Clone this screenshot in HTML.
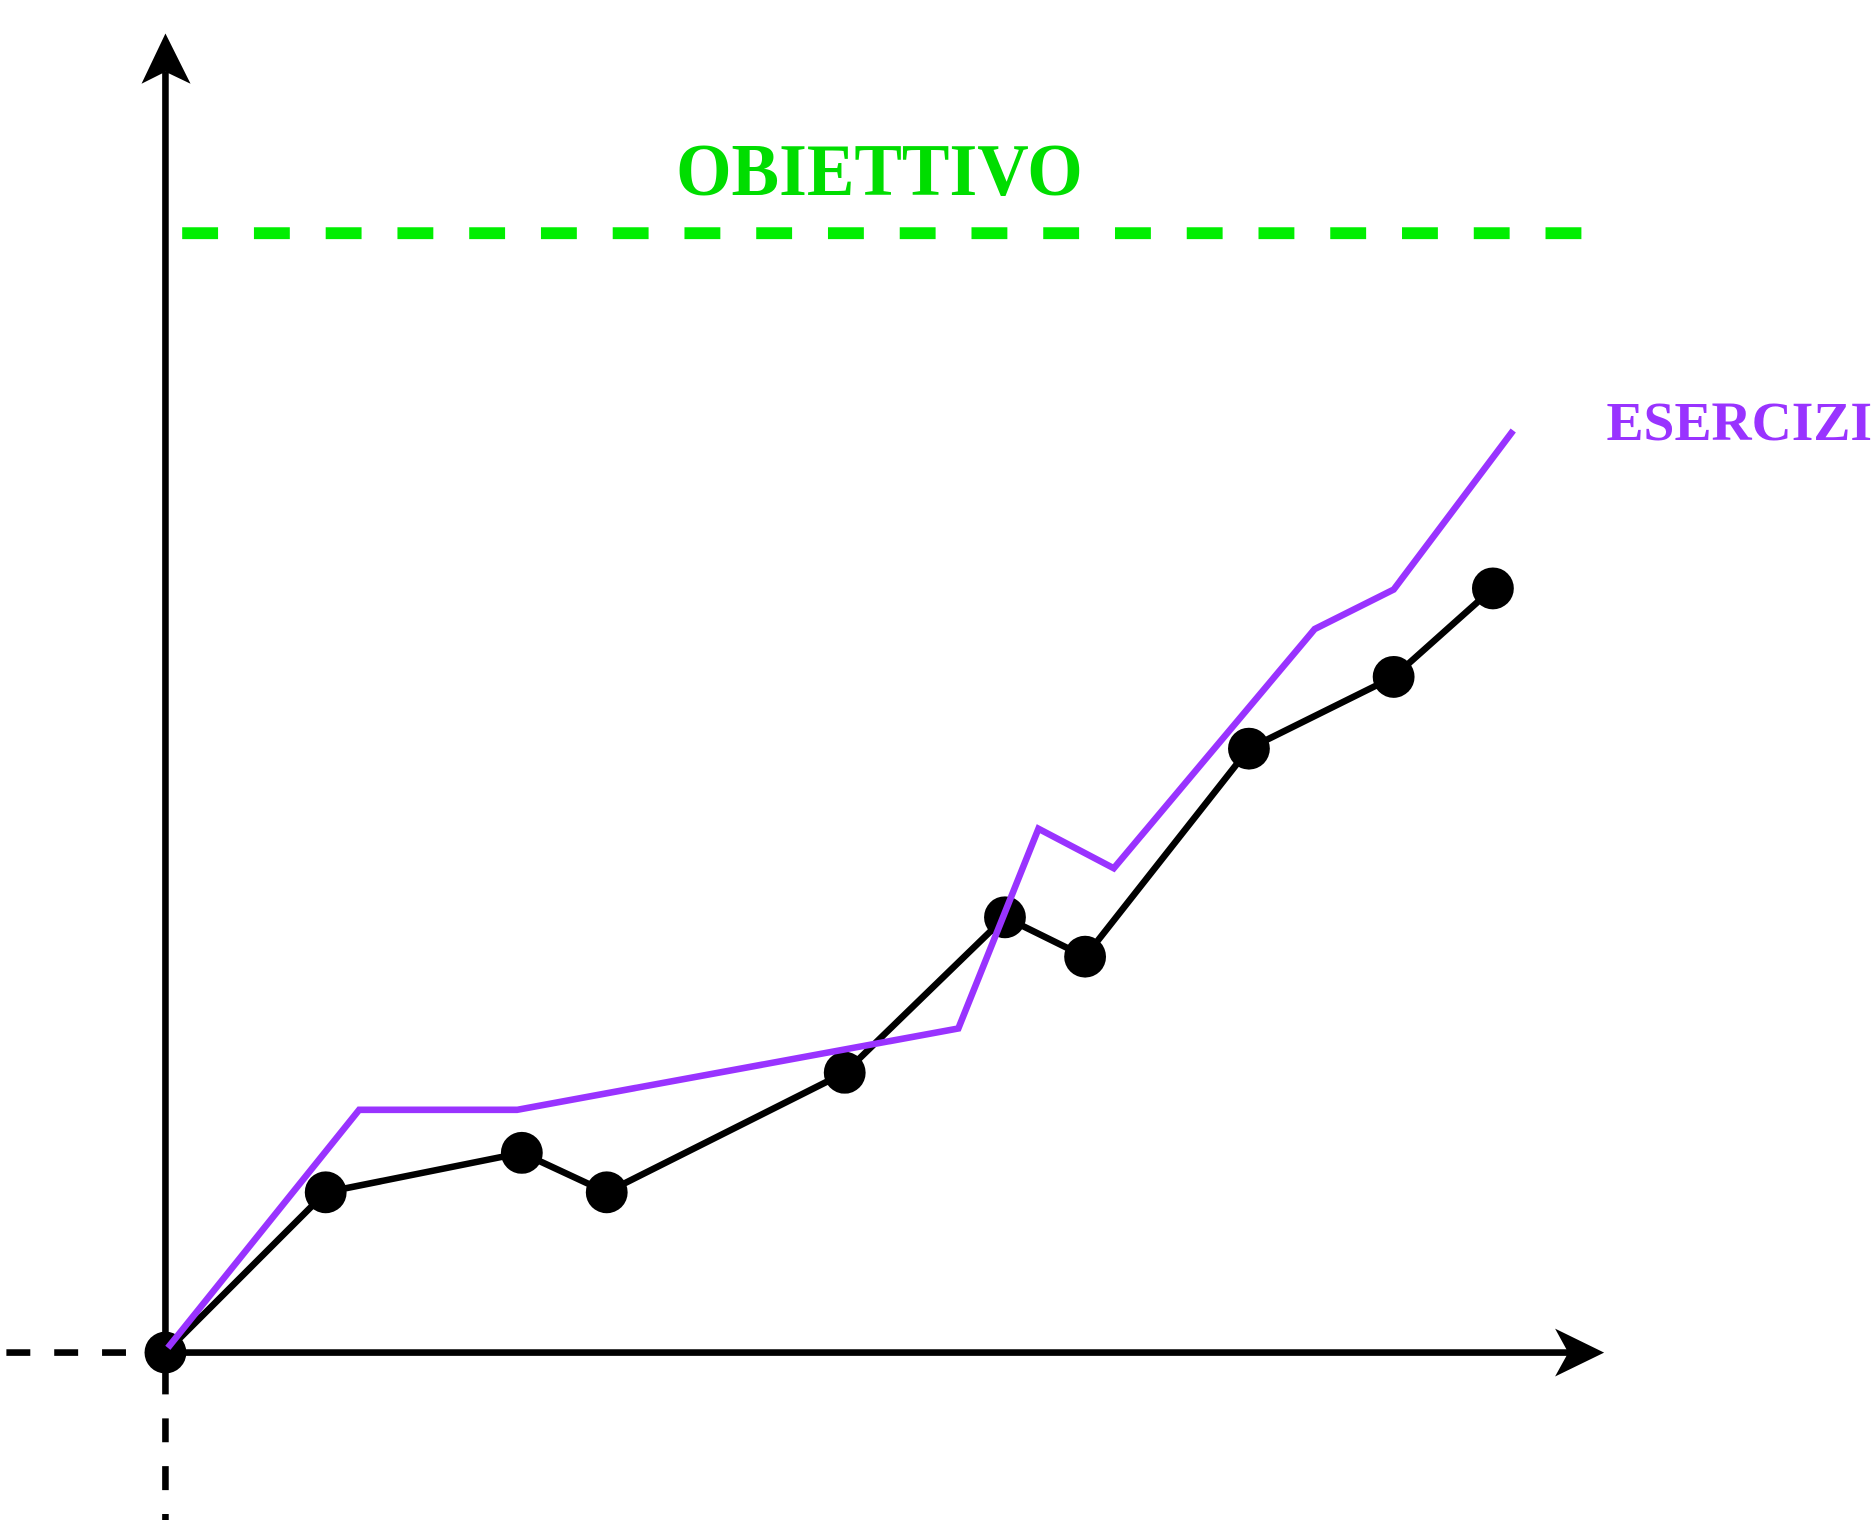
<!DOCTYPE html>
<html><head><meta charset="utf-8"><style>
html,body{margin:0;padding:0;background:#fff;}
svg{display:block;}
text{font-family:"Liberation Serif","Times New Roman",serif;font-weight:bold;}
</style></head>
<body>
<svg id="chart" width="1876" height="1520" viewBox="0 0 1568 1271" xmlns="http://www.w3.org/2000/svg">
  <line x1="138" y1="1131" x2="138" y2="60" stroke="#000" stroke-width="5.5"/>
  <polygon points="138,28 118,70 138,60 159,70" fill="#000"/>
  <line x1="138" y1="1131" x2="1312" y2="1131" stroke="#000" stroke-width="5.5"/>
  <polygon points="1341,1131 1300,1111 1311,1131 1300,1151" fill="#000"/>
  <line x1="5" y1="1131" x2="128" y2="1131" stroke="#000" stroke-width="5.5" stroke-dasharray="20,20"/>
  <line x1="138" y1="1142" x2="138" y2="1271" stroke="#000" stroke-width="5.5" stroke-dasharray="20,20" stroke-dashoffset="-4"/>
  <line x1="152" y1="195" x2="1326" y2="195" stroke="#00ee00" stroke-width="10" stroke-dasharray="30,30"/>
  <text x="735" y="163" text-anchor="middle" font-size="62" fill="#00dd00" textLength="340" lengthAdjust="spacingAndGlyphs">OBIETTIVO</text>
  <text x="1343" y="368" font-size="46" fill="#9933ff" textLength="222" lengthAdjust="spacingAndGlyphs">ESERCIZI</text>
  <g id="series"></g>
</svg>
<script>
// data units: x = horizontal progress, y = level
const resultX = [0, 13.4, 29.8, 36.9, 56.8, 70.2, 76.9, 90.6, 102.7, 111.0];
const resultY = [0, 13.4, 16.7, 13.4, 23.4, 36.4, 33.1, 50.5, 56.5, 63.9];
const exerciseX = [0.2, 16.2, 29.4, 66.3, 73.0, 79.3, 96.1, 102.7, 112.7];
const exerciseY = [0.4, 20.3, 20.3, 27.1, 43.8, 40.5, 60.5, 63.8, 77.1];

function sx(v){ return 138 + v*10; }
function sy(v){ return 1131 - v*10; }

const NS = 'http://www.w3.org/2000/svg';
const g = document.getElementById('series');

const rl = document.createElementNS(NS,'polyline');


rl.setAttribute('points', resultX.map((x,i)=>sx(x)+','+sy(resultY[i])).join(' '));
rl.setAttribute('fill','none'); rl.setAttribute('stroke','#000'); rl.setAttribute('stroke-width','5.5');
g.appendChild(rl);

resultX.forEach((x,i)=>{
  const c = document.createElementNS(NS,'circle');
  
  
  c.setAttribute('cx', sx(x)); c.setAttribute('cy', sy(resultY[i])); c.setAttribute('r', 17.5);
  c.setAttribute('fill','#000');
  g.appendChild(c);
});

const el = document.createElementNS(NS,'polyline');


el.setAttribute('points', exerciseX.map((x,i)=>sx(x)+','+sy(exerciseY[i])).join(' '));
el.setAttribute('fill','none'); el.setAttribute('stroke','#9933ff'); el.setAttribute('stroke-width','5.5');
g.appendChild(el);
</script>
</body></html>
